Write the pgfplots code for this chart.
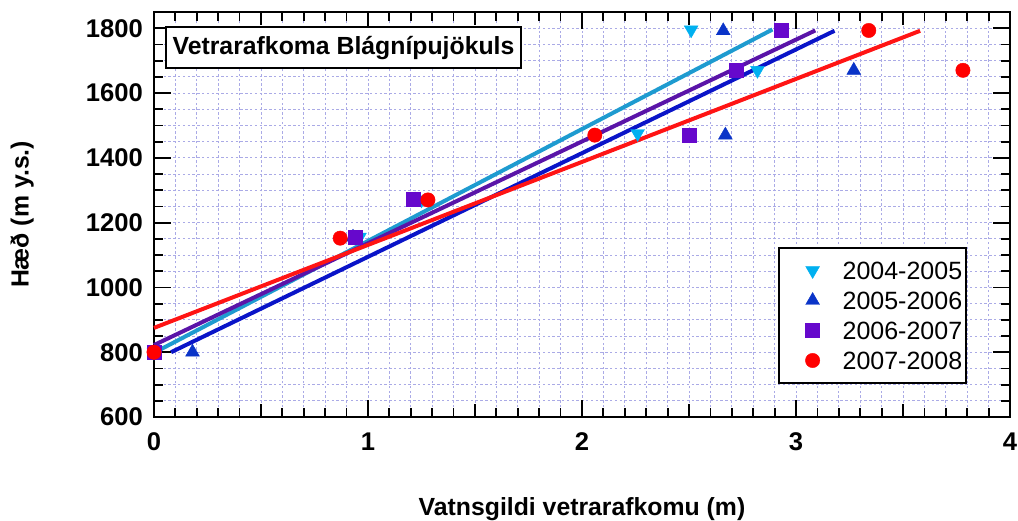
\documentclass[border=0pt]{standalone}
\usepackage{fontspec}
\setmainfont{Liberation Sans}
\usepackage{pgfplots}
\pgfplotsset{compat=1.18}
\definecolor{cyanM}{HTML}{00B0F0}
\definecolor{cyanL}{HTML}{1E9BD0}
\definecolor{blueM}{HTML}{0A34C8}
\definecolor{blueL}{HTML}{0A14C8}
\definecolor{purpM}{HTML}{6608CC}
\definecolor{purpL}{HTML}{5A14A8}
\definecolor{redM}{HTML}{FF0000}
\definecolor{redL}{HTML}{FF1414}
\definecolor{gridc}{HTML}{AAAAE6}
\begin{document}
\begin{tikzpicture}
\path[use as bounding box] (-77pt,-51.5pt) rectangle (432pt,208.5pt);
\begin{axis}[
  scale only axis, width=428pt, height=202.5pt,
  xmin=0, xmax=4, ymin=600, ymax=1850,
  clip=false,
  xtick={0,1,2,3,4}, ytick={600,800,...,1800},
  minor x tick num=9, minor y tick num=3,
  extra x ticks={0.5,1.5,2.5,3.5}, extra x tick labels={},
  extra x tick style={major tick length=6.5pt},
  tick align=inside,
  major tick length=8.5pt, minor tick length=4.5pt,
  grid=both,
  grid style={dash pattern=on 1.2pt off 1.2pt, color=gridc, line width=0.45pt},
  minor grid style={dash pattern=on 1.2pt off 1.2pt, color=gridc, line width=0.45pt},
  major grid style={dash pattern=on 1.2pt off 1.2pt, color=gridc, line width=0.45pt},
  axis line style={line width=1pt},
  tick style={line width=0.9pt, black},
  /pgf/number format/assume math mode=true,
  /pgf/number format/1000 sep={},
  tick label style={font=\fontsize{12.8}{14}\selectfont\bfseries},
  xticklabel style={yshift=-4.5pt},
  yticklabel style={xshift=-2pt},
  xlabel={Vatnsgildi vetrarafkomu (m)},
  ylabel={Hæð (m y.s.)},
  label style={font=\fontsize{12.4}{14}\selectfont\bfseries},
  xlabel style={at={(axis description cs:0.5,0)}, anchor=center, yshift=-46pt},
  ylabel style={at={(axis description cs:-0.1542,0.5)}, anchor=center},
  legend style={at={(rel axis cs:0.95,0.0815)}, anchor=south east, draw=black, line width=1pt,
    fill=white, font=\fontsize{12.5}{14}\selectfont, inner xsep=0pt, inner ysep=6.75pt,
    row sep=6pt, nodes={inner ysep=0pt, text height=9pt, text depth=0pt},
    cells={anchor=west}},
  legend image code/.code={\path[draw=none,fill=none] (0pt,0pt) -- (30pt,0pt); \draw[mark repeat=2,mark phase=2,#1] plot coordinates {(0pt,0pt) (17pt,0pt) (34pt,0pt)};},
]
% regression lines
\addplot[forget plot, color=cyanL, line width=2pt] coordinates {(0.02,805) (2.89,1796)};
\addplot[forget plot, color=blueL, line width=2pt] coordinates {(0.08,800) (3.18,1792)};
\addplot[forget plot, color=purpL, line width=2pt] coordinates {(0,822) (3.09,1793)};
\addplot[forget plot, color=redL, line width=2pt] coordinates {(0,875) (3.58,1792)};
% data points
\addplot[only marks, mark=triangle*, mark size=4pt, mark options={rotate=180, fill=cyanM, draw=cyanM, line width=0.2pt}]
  coordinates {(0,800) (0.96,1155) (1.25,1270) (2.26,1475) (2.82,1670) (2.51,1795)};
\addlegendentry{2004-2005}
\addplot[only marks, mark=triangle*, mark size=4pt, mark options={fill=blueM, draw=blueM, line width=0.2pt}]
  coordinates {(0.18,800) (0.93,1155) (1.22,1270) (2.67,1470) (3.27,1670) (2.66,1792)};
\addlegendentry{2005-2006}
\addplot[only marks, mark=square*, mark size=3.5pt, mark options={fill=purpM, draw=purpM, line width=0.2pt}]
  coordinates {(0,800) (0.94,1155) (1.21,1272) (2.50,1470) (2.72,1670) (2.93,1793)};
\addlegendentry{2006-2007}
\addplot[only marks, mark=*, mark size=3.6pt, mark options={fill=redM, draw=redM, line width=0.2pt}]
  coordinates {(0,800) (0.87,1152) (1.28,1270) (2.06,1470) (3.78,1670) (3.34,1793)};
\addlegendentry{2007-2008}
\node[draw, line width=1pt, fill=white, font=\fontsize{12.4}{14}\selectfont\bfseries,
  inner xsep=3.5pt, minimum height=20.5pt] at (rel axis cs:0.2214,0.912) {Vetrarafkoma Blágnípujökuls};
\end{axis}
\end{tikzpicture}
\end{document}
